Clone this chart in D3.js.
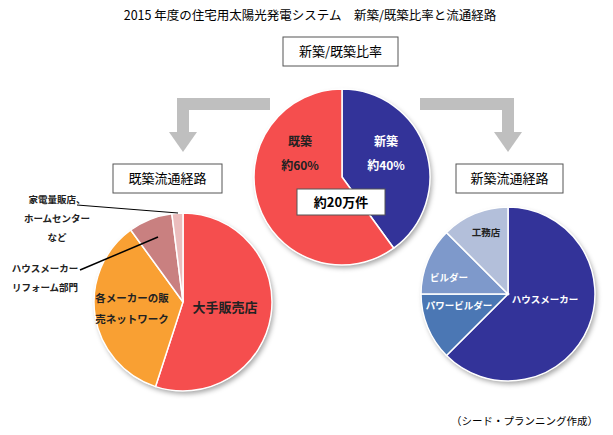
<!DOCTYPE html><html><head><meta charset="utf-8"><script src="https://cdn.jsdelivr.net/npm/d3@7"></script>
<style>body{margin:0;background:#fff}text{font-family:"Noto Sans CJK JP",sans-serif}</style></head><body>
<svg id="c" width="613" height="435"></svg>
<script>
const ratioLabels=["新築","既築"], ratioValues=[40,60], ratioText=["約40%","約60%"];
const oldLabels=["大手販売店","各メーカーの販売ネットワーク","ハウスメーカーリフォーム部門","家電量販店、ホームセンターなど"], oldValues=[55,35,8,2];
const newLabels=["ハウスメーカー","パワービルダー","ビルダー","工務店"], newValues=[62.5,12.5,12.5,12.5];
const svg=d3.select("#c");
const defs=svg.append("defs");
const f=defs.append("filter").attr("id","sh").attr("x","-20%").attr("y","-20%").attr("width","140%").attr("height","140%");
f.append("feDropShadow").attr("dx",2).attr("dy",3).attr("stdDeviation",2.5).attr("flood-opacity",0.35);
svg.append("text").attr("x",310).attr("y",20).attr("text-anchor","middle").attr("font-size",12.5).text("2015 年度の住宅用太陽光発電システム　新築/既築比率と流通経路");
// arrows
const g=svg.append("g").attr("fill","#bfbfbf");
function arrow(x1,x2,y,xd,yEnd){
  g.append("rect").attr("x",Math.min(x1,x2)).attr("y",y-6).attr("width",Math.abs(x2-x1)).attr("height",12);
  g.append("rect").attr("x",xd-6).attr("y",y-6).attr("width",12).attr("height",yEnd-y-12);
  g.append("path").attr("d",`M${xd-14},${yEnd-20}L${xd+14},${yEnd-20}L${xd},${yEnd}Z`);
}
arrow(270,177,104,183,152);
arrow(420,514,104,508,152);
function box(x,y,w,h,t,fs,bold){
  svg.append("rect").attr("x",x).attr("y",y).attr("width",w).attr("height",h).attr("fill","#fff").attr("stroke","#555");
  svg.append("text").attr("x",x+w/2).attr("y",y+h/2+fs*0.36).attr("text-anchor","middle").attr("font-size",fs).attr("font-weight",bold?"bold":"normal").text(t);
}
box(283,37,115,29,"新築/既築比率",13);
box(113,164,109,29,"既築流通経路",13);
box(456,164,107,29,"新築流通経路",13);
function pie(cx,cy,r,vals,cols){
  const arcs=d3.pie().sort(null)(vals);
  const arc=d3.arc().innerRadius(0).outerRadius(r);
  const gg=svg.append("g").attr("transform",`translate(${cx},${cy})`);
  gg.append("circle").attr("r",r).attr("fill","#fff").attr("filter","url(#sh)");
  gg.selectAll("path").data(arcs).join("path").attr("d",arc).attr("fill",(d,i)=>cols[i]).attr("stroke","#fff").attr("stroke-width",1.5);
  return gg;
}
const cp=pie(342,177,88,ratioValues,["#333399","#F54E4E"]);
function lab(gg,x,y,lines,fs,col,bold=true){
  const t=gg.append("text").attr("text-anchor","middle").attr("font-size",fs).attr("fill",col).attr("font-weight",bold?"bold":"normal");
  lines.forEach((l,i)=>t.append("tspan").attr("x",x).attr("y",y+i*fs*2).text(l));
}
lab(svg,386,146,[ratioLabels[0],ratioText[0]],12,"#fff");
lab(svg,300,146,[ratioLabels[1],ratioText[1]],12,"#222");
box(297,189,88,26,"約20万件",13,true);
pie(183,302,89,oldValues,["#F54E4E","#F9A033","#C98080","#EBBDBD"]);
lab(svg,225,312,[oldLabels[0]],13,"#222");
lab(svg,132,302,["各メーカーの販","売ネットワーク"],10.5,"#222");
lab(svg,57,203,["家電量販店、","ホームセンター","など"],9.5,"#222");
lab(svg,45,272,["ハウスメーカー","リフォーム部門"],9.5,"#222");
svg.append("line").attr("x1",77).attr("y1",205).attr("x2",178).attr("y2",213).attr("stroke","#000");
svg.append("line").attr("x1",80).attr("y1",270).attr("x2",158).attr("y2",237).attr("stroke","#000").attr("stroke-width",1.5);
pie(508,294,87,newValues,["#333399","#4B77B4","#7E99CB","#B3BFDA"]);
lab(svg,545,303,[newLabels[0]],9.5,"#fff");
lab(svg,459,309,[newLabels[1]],9.5,"#fff");
lab(svg,449,281,[newLabels[2]],9.5,"#fff");
lab(svg,486,236,[newLabels[3]],9.5,"#222");
svg.append("text").attr("x",598).attr("y",425).attr("text-anchor","end").attr("font-size",10.5).text("（シード・プランニング作成）");
</script></body></html>
